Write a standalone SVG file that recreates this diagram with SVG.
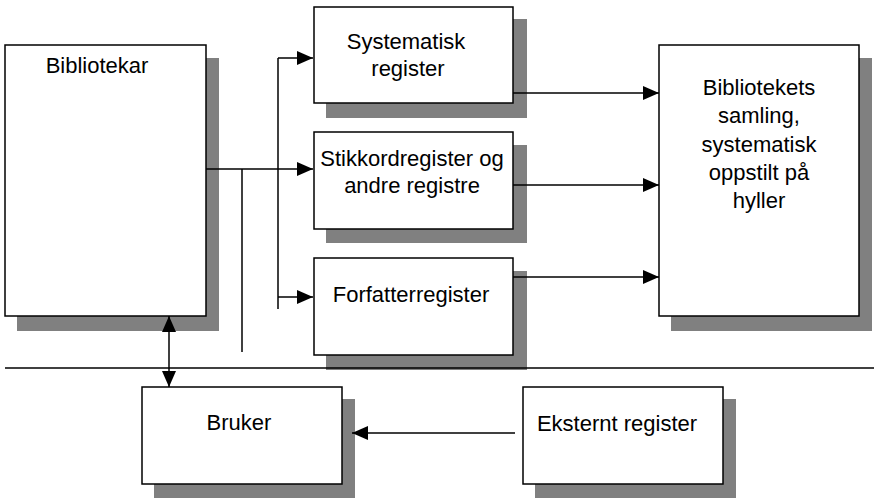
<svg xmlns="http://www.w3.org/2000/svg" width="874" height="498" viewBox="0 0 874 498">
<style>
.sh{fill:#808080;stroke:none}
.bx{fill:#fff;stroke:#000;stroke-width:1.5}
.t{font-family:"Liberation Sans",Arial,sans-serif;font-size:22px;fill:#000;text-anchor:middle}
.ln{fill:none;stroke:#000;stroke-width:1.5}
</style>
<defs>
<marker id="arr" viewBox="0 0 16 14" refX="16" refY="7" markerWidth="16" markerHeight="14" markerUnits="userSpaceOnUse" orient="auto-start-reverse">
<path d="M0,0 L16,7 L0,14 z" fill="#000"/>
</marker>
</defs>
<rect width="874" height="498" fill="#fff"/>
<g id="bibliotekar">
<rect class="sh" x="17" y="58" width="202" height="273"/>
<rect class="bx" x="5" y="45" width="201" height="271"/>
<text class="t" x="97" y="73">Bibliotekar</text>
</g>
<g id="systematisk">
<rect class="sh" x="326" y="19" width="201" height="99"/>
<rect class="bx" x="314" y="7" width="199" height="96"/>
<text class="t" x="406" y="49">Systematisk</text>
<text class="t" x="408" y="76">register</text>
</g>
<g id="stikkord">
<rect class="sh" x="326" y="145" width="201" height="98"/>
<rect class="bx" x="314" y="132" width="199" height="97"/>
<text class="t" x="412" y="166">Stikkordregister og</text>
<text class="t" x="412" y="193">andre registre</text>
</g>
<g id="forfatter">
<rect class="sh" x="326" y="271" width="201" height="99"/>
<rect class="bx" x="314" y="258" width="199" height="97"/>
<text class="t" x="411" y="302">Forfatterregister</text>
</g>
<g id="samling">
<rect class="sh" x="671" y="58" width="201" height="273"/>
<rect class="bx" x="659" y="45" width="200" height="271"/>
<text class="t" x="759" y="95">Bibliotekets</text>
<text class="t" x="759" y="123">samling,</text>
<text class="t" x="759" y="152">systematisk</text>
<text class="t" x="759" y="180">oppstilt på</text>
<text class="t" x="759" y="208">hyller</text>
</g>
<g id="bruker">
<rect class="sh" x="154" y="399" width="201" height="99"/>
<rect class="bx" x="142" y="387" width="200" height="97"/>
<text class="t" x="239" y="430">Bruker</text>
</g>
<g id="eksternt">
<rect class="sh" x="535" y="399" width="201" height="99"/>
<rect class="bx" x="523" y="387" width="200" height="97"/>
<text class="t" x="617" y="431">Eksternt register</text>
</g>
<g id="connectors">
<line class="ln" x1="5" y1="368" x2="874" y2="368"/>
<line class="ln" x1="206" y1="169" x2="313" y2="169" marker-end="url(#arr)"/>
<line class="ln" x1="242" y1="169" x2="242" y2="352"/>
<line class="ln" x1="278" y1="58" x2="278" y2="309"/>
<line class="ln" x1="278" y1="58" x2="313" y2="58" marker-end="url(#arr)"/>
<line class="ln" x1="278" y1="297" x2="313" y2="297" marker-end="url(#arr)"/>
<line class="ln" x1="513" y1="93" x2="659" y2="93" marker-end="url(#arr)"/>
<line class="ln" x1="513" y1="185" x2="659" y2="185" marker-end="url(#arr)"/>
<line class="ln" x1="513" y1="277" x2="659" y2="277" marker-end="url(#arr)"/>
<line class="ln" x1="169" y1="316" x2="169" y2="387" marker-start="url(#arr)" marker-end="url(#arr)"/>
<line class="ln" x1="515" y1="433" x2="352" y2="433" marker-end="url(#arr)"/>
</g>
</svg>
